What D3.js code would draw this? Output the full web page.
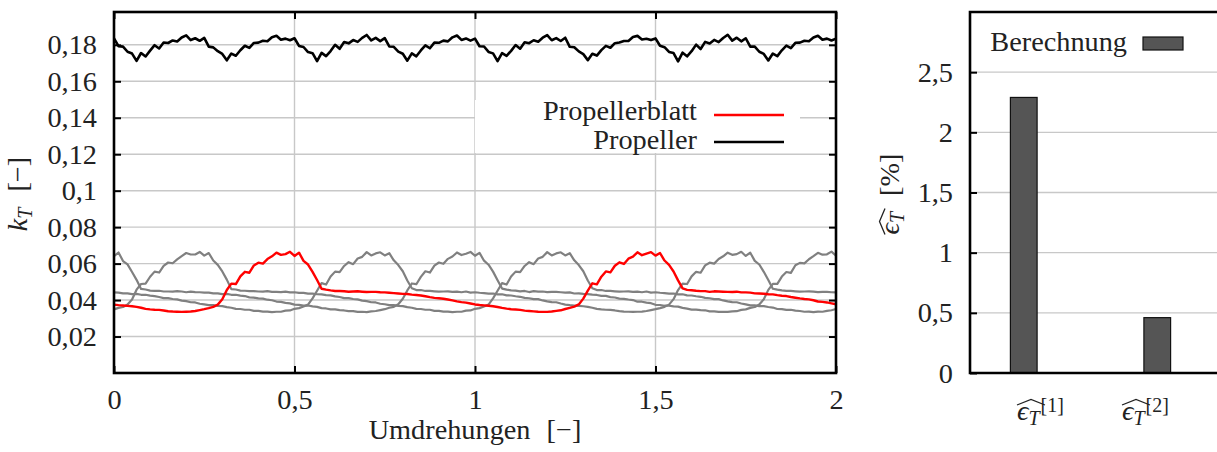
<!DOCTYPE html>
<html lang="de">
<head>
<meta charset="utf-8">
<title>Schubbeiwert Propeller</title>
<script src="https://d3js.org/d3.v7.min.js"></script>
<style>
  body { margin: 0; background: #fff; }
  text { font-family: "Liberation Serif", "DejaVu Serif", serif; fill: #222; }
</style>
</head>
<body>
<svg id="chart"></svg>
<script>
// ---- data ----
// Umdrehungen 0..2 in Schritten von 0,0125
const umdrehungen = d3.range(161).map(i => i * 0.0125);

// k_T der einzelnen Blaetter (Blatt 1 = rot, Rest grau)
const blatt1 = [
.0375,.0372,.0370,.0368,.0366,.0363,.0358,.0352,.0349,.0347,
.0346,.0343,.0339,.0337,.0336,.0335,.0336,.0337,.0340,.0345,
.0350,.0356,.0363,.0375,.0405,.0455,.0490,.0488,.0530,.0555,
.0550,.0590,.0605,.0600,.0625,.0640,.0660,.0648,.0652,.0665,
.0642,.0660,.0615,.0595,.0555,.0510,.0462,.0457,.0453,.0450,
.0450,.0448,.0446,.0447,.0448,.0446,.0444,.0445,.0445,.0443,
.0442,.0440,.0438,.0436,.0434,.0433,.0430,.0428,.0425,.0421,
.0416,.0412,.0410,.0407,.0403,.0398,.0393,.0389,.0386,.0381,
.0376,.0373,.0371,.0369,.0366,.0362,.0357,.0353,.0350,.0348,
.0346,.0342,.0340,.0338,.0336,.0335,.0335,.0337,.0341,.0344,
.0351,.0357,.0364,.0376,.0408,.0452,.0492,.0486,.0528,.0557,
.0552,.0588,.0607,.0598,.0627,.0638,.0662,.0646,.0655,.0663,
.0644,.0658,.0617,.0593,.0557,.0508,.0464,.0456,.0454,.0451,
.0449,.0449,.0445,.0448,.0447,.0446,.0445,.0444,.0446,.0442,
.0442,.0441,.0437,.0436,.0435,.0432,.0431,.0427,.0424,.0422,
.0417,.0413,.0409,.0406,.0404,.0399,.0392,.0390,.0387,.0382,
.0377];

const blatt2 = [
.0349,.0357,.0362,.0376,.0403,.0457,.0488,.0490,.0528,.0556,
.0551,.0588,.0606,.0602,.0623,.0641,.0658,.0650,.0650,.0664,
.0644,.0658,.0617,.0593,.0557,.0512,.0460,.0458,.0452,.0451,
.0449,.0449,.0447,.0446,.0449,.0445,.0445,.0444,.0446,.0442,
.0443,.0439,.0439,.0435,.0435,.0432,.0431,.0427,.0426,.0420,
.0417,.0411,.0411,.0406,.0404,.0397,.0394,.0388,.0387,.0380,
.0377,.0372,.0372,.0368,.0367,.0361,.0358,.0352,.0351,.0347,
.0347,.0341,.0341,.0337,.0337,.0334,.0336,.0336,.0342,.0343,
.0352,.0356,.0365,.0375,.0409,.0451,.0493,.0485,.0529,.0556,
.0553,.0587,.0608,.0597,.0628,.0637,.0663,.0645,.0656,.0662,
.0645,.0657,.0618,.0592,.0558,.0507,.0465,.0455,.0455,.0450,
.0450,.0448,.0446,.0447,.0448,.0445,.0446,.0443,.0447,.0441,
.0443,.0440,.0438,.0435,.0436,.0431,.0432,.0426,.0425,.0421,
.0418,.0412,.0410,.0405,.0405,.0398,.0393,.0389,.0388,.0381,
.0376,.0371,.0371,.0367,.0367,.0362,.0359,.0351,.0350,.0346,
.0347,.0342,.0340,.0336,.0337,.0334,.0337,.0336,.0341,.0344,
.0351];

const blatt3 = [
.0641,.0661,.0614,.0596,.0554,.0511,.0461,.0458,.0452,.0450,
.0451,.0447,.0447,.0446,.0449,.0447,.0443,.0446,.0444,.0443,
.0441,.0441,.0437,.0437,.0433,.0434,.0429,.0429,.0424,.0422,
.0415,.0413,.0409,.0408,.0402,.0399,.0392,.0390,.0385,.0382,
.0375,.0374,.0370,.0370,.0365,.0363,.0356,.0354,.0349,.0349,
.0345,.0343,.0339,.0339,.0335,.0336,.0334,.0338,.0340,.0345,
.0350,.0358,.0363,.0377,.0407,.0453,.0491,.0487,.0527,.0558,
.0551,.0589,.0606,.0599,.0626,.0639,.0661,.0647,.0654,.0664,
.0643,.0659,.0616,.0594,.0556,.0509,.0463,.0457,.0453,.0452,
.0448,.0450,.0444,.0449,.0446,.0447,.0444,.0445,.0445,.0443,
.0441,.0442,.0436,.0437,.0434,.0433,.0430,.0428,.0423,.0423,
.0416,.0414,.0408,.0407,.0403,.0400,.0391,.0391,.0386,.0383,
.0374,.0373,.0369,.0369,.0365,.0364,.0357,.0353,.0348,.0348,
.0345,.0344,.0338,.0338,.0335,.0336,.0335,.0338,.0339,.0346,
.0349,.0357,.0362,.0376,.0404,.0456,.0489,.0489,.0529,.0554,
.0549,.0591,.0604,.0601,.0624,.0641,.0659,.0649,.0651,.0666,
.0643];

const blatt4 = [
.0442,.0441,.0437,.0437,.0433,.0434,.0429,.0429,.0424,.0422,
.0417,.0411,.0411,.0406,.0404,.0397,.0394,.0388,.0387,.0380,
.0376,.0372,.0372,.0368,.0367,.0361,.0358,.0352,.0351,.0347,
.0347,.0341,.0341,.0337,.0337,.0334,.0336,.0336,.0342,.0343,
.0352,.0356,.0365,.0375,.0409,.0451,.0493,.0485,.0529,.0556,
.0553,.0587,.0608,.0597,.0628,.0637,.0663,.0645,.0656,.0662,
.0645,.0657,.0618,.0592,.0558,.0507,.0465,.0455,.0455,.0450,
.0450,.0448,.0446,.0447,.0448,.0445,.0446,.0443,.0447,.0441,
.0443,.0440,.0438,.0435,.0436,.0431,.0432,.0426,.0425,.0421,
.0418,.0412,.0410,.0405,.0405,.0398,.0393,.0389,.0388,.0381,
.0375,.0372,.0370,.0368,.0366,.0363,.0358,.0352,.0349,.0347,
.0346,.0343,.0339,.0337,.0336,.0335,.0336,.0337,.0340,.0345,
.0350,.0356,.0363,.0375,.0405,.0455,.0490,.0488,.0530,.0555,
.0550,.0590,.0605,.0600,.0625,.0640,.0660,.0648,.0652,.0665,
.0642,.0660,.0615,.0595,.0555,.0510,.0462,.0457,.0453,.0450,
.0450,.0448,.0446,.0447,.0448,.0446,.0444,.0445,.0445,.0443,
.0442];

// gesamter Propeller
const propeller = [
.1835,.1793,.1790,.1762,.1752,.1712,.1755,.1736,.1768,.1798,.1780,.1813,.1810,.1824,.1818,.1840,.1852,.1826,.1836,.1822,
.1838,.1790,.1786,.1765,.1750,.1715,.1752,.1740,.1770,.1795,.1783,.1810,.1812,.1822,.1820,.1842,.1850,.1828,.1834,.1825,
.1836,.1794,.1788,.1760,.1754,.1710,.1756,.1738,.1766,.1800,.1778,.1815,.1808,.1826,.1816,.1838,.1854,.1824,.1838,.1820,
.1837,.1791,.1789,.1763,.1751,.1713,.1753,.1737,.1769,.1797,.1781,.1812,.1811,.1823,.1819,.1841,.1851,.1827,.1835,.1823,
.1834,.1792,.1791,.1761,.1753,.1711,.1754,.1739,.1767,.1799,.1779,.1814,.1809,.1825,.1817,.1839,.1853,.1825,.1837,.1821,
.1839,.1789,.1787,.1764,.1749,.1716,.1751,.1741,.1771,.1794,.1784,.1809,.1813,.1821,.1821,.1843,.1849,.1829,.1833,.1826,
.1835,.1795,.1787,.1761,.1755,.1709,.1757,.1737,.1765,.1801,.1777,.1816,.1807,.1827,.1815,.1837,.1855,.1823,.1839,.1819,
.1836,.1790,.1790,.1762,.1750,.1714,.1752,.1738,.1770,.1796,.1782,.1811,.1812,.1822,.1820,.1840,.1850,.1828,.1834,.1824,
.1834];

const xTicksLeft = [0, 0.5, 1, 1.5, 2];
const yTicksLeft = [0.02, 0.04, 0.06, 0.08, 0.1, 0.12, 0.14, 0.16, 0.18];

// Fehler (rechts)
const fehlerKategorien = ["1", "2"];
const fehlerWerte = [2.29, 0.46];
const yTicksRight = [0, 0.5, 1, 1.5, 2, 2.5];

// ---- setup ----
const W = 1217, H = 452;
const svg = d3.select("#chart").attr("width", W).attr("height", H)
  .style("background", "#fff");

// schriftgroesse so waehlen, dass "Umdrehungen" ca. 162 px breit ist
const probe = svg.append("text").style("font-size", "100px").text("Umdrehungen");
const FS = Math.round(100 * 162 / probe.node().getComputedTextLength() * 10) / 10;
probe.remove();
const FSs = Math.round(FS * 0.72);

const de = d3.formatLocale({decimal: ",", thousands: ".", grouping: [3], currency: ["", " €"]});
const fmt = de.format("~g");

const gridCol = "#c8c8c8";

// ===== linkes Diagramm =====
const L = {x0: 114, x1: 836, y0: 12, y1: 373};
const x = d3.scaleLinear().domain([0, 2]).range([L.x0, L.x1]);
const y = d3.scaleLinear().domain([0, 0.198]).range([L.y1, L.y0]);

// gitter
svg.append("g").selectAll("line").data([0.5, 1, 1.5]).join("line")
  .attr("x1", d => x(d)).attr("x2", d => x(d))
  .attr("y1", L.y0).attr("y2", L.y1)
  .attr("stroke", gridCol).attr("stroke-width", 1.4);
svg.append("g").selectAll("line").data(yTicksLeft).join("line")
  .attr("x1", L.x0).attr("x2", L.x1)
  .attr("y1", d => y(d)).attr("y2", d => y(d))
  .attr("stroke", gridCol).attr("stroke-width", 1.4);

// legendenhintergrund
svg.append("rect").attr("x", 475).attr("y", 100).attr("width", 325).attr("height", 53)
  .attr("fill", "#fff");

const line = d3.line().x((d, i) => x(umdrehungen[i])).y(d => y(d));

[blatt2, blatt3, blatt4].forEach(s => {
  svg.append("path").datum(s).attr("d", line)
    .attr("fill", "none").attr("stroke", "#808080").attr("stroke-width", 2.2)
    .attr("stroke-linejoin", "round");
});
svg.append("path").datum(blatt1).attr("d", line)
  .attr("fill", "none").attr("stroke", "#ff0000").attr("stroke-width", 2.4)
  .attr("stroke-linejoin", "round");
svg.append("path").datum(propeller).attr("d", line)
  .attr("fill", "none").attr("stroke", "#000").attr("stroke-width", 2.6)
  .attr("stroke-linejoin", "round");

// achsen (ticks nach innen)
function styleAxis(g) {
  g.attr("font-family", null).attr("font-size", null);
  g.select(".domain").remove();
  g.selectAll(".tick line").attr("stroke", "#000").attr("stroke-width", 2);
  g.selectAll("text").style("font-size", FS + "px").attr("fill", "#222");
}
svg.append("g").attr("transform", `translate(${L.x0},0)`)
  .call(d3.axisLeft(y).tickValues(yTicksLeft).tickSize(-7).tickPadding(17).tickFormat(fmt))
  .call(styleAxis);
svg.append("g").attr("transform", `translate(${L.x1},0)`)
  .call(d3.axisRight(y).tickValues(yTicksLeft).tickSize(-7).tickFormat(""))
  .call(styleAxis);
svg.append("g").attr("transform", `translate(0,${L.y1})`)
  .call(d3.axisBottom(x).tickValues(xTicksLeft).tickSize(-7).tickPadding(16).tickFormat(fmt))
  .call(styleAxis);
svg.append("g").attr("transform", `translate(0,${L.y0})`)
  .call(d3.axisTop(x).tickValues(xTicksLeft).tickSize(-7).tickFormat(""))
  .call(styleAxis);

svg.append("rect").attr("x", L.x0).attr("y", L.y0)
  .attr("width", L.x1 - L.x0).attr("height", L.y1 - L.y0)
  .attr("fill", "none").attr("stroke", "#000").attr("stroke-width", 2.6);

// legende links
const leg = [
  {name: "Propellerblatt", color: "#ff0000", ty: 120, ly: 115},
  {name: "Propeller", color: "#000", ty: 149, ly: 142}
];
leg.forEach(l => {
  svg.append("text").attr("x", 697).attr("y", l.ty).attr("text-anchor", "end")
    .style("font-size", FS + "px").text(l.name);
  svg.append("line").attr("x1", 714).attr("x2", 784).attr("y1", l.ly).attr("y2", l.ly)
    .attr("stroke", l.color).attr("stroke-width", 2.6);
});

// achsentitel
svg.append("text").attr("x", x(1)).attr("y", 439).attr("text-anchor", "middle")
  .style("font-size", FS + "px")
  .call(t => {
    t.append("tspan").text("Umdrehungen");
    t.append("tspan").attr("dx", 16).text("[\u2212]");
  });

const yl = svg.append("text").attr("transform", "translate(27,194) rotate(-90)")
  .attr("text-anchor", "middle").style("font-size", FS + "px");
yl.append("tspan").attr("font-style", "italic").text("k");
yl.append("tspan").attr("font-style", "italic").style("font-size", FSs + "px").attr("dy", 5).text("T");
yl.append("tspan").attr("dy", -5).attr("dx", 16).text("[\u2212]");

// ===== rechtes Diagramm =====
const R = {x0: 970, y0: 12, y1: 373};
const yr = d3.scaleLinear().domain([0, 3]).range([R.y1, R.y0]);
const xb = d3.scaleBand().domain(fehlerKategorien).range([957, 1224])
  .paddingInner(0.8).paddingOuter(0.4);
const xl = d3.scalePoint().domain(fehlerKategorien).range([1017, 1122]);

svg.append("g").selectAll("line").data(yTicksRight.filter(d => d > 0)).join("line")
  .attr("x1", R.x0).attr("x2", W)
  .attr("y1", d => yr(d)).attr("y2", d => yr(d))
  .attr("stroke", gridCol).attr("stroke-width", 1.4);

svg.append("g").selectAll("rect").data(fehlerWerte).join("rect")
  .attr("x", (d, i) => xb(fehlerKategorien[i]))
  .attr("width", xb.bandwidth())
  .attr("y", d => yr(d)).attr("height", d => yr(0) - yr(d))
  .attr("fill", "#555").attr("stroke", "#111").attr("stroke-width", 1.2);

svg.append("g").attr("transform", `translate(${R.x0},0)`)
  .call(d3.axisLeft(yr).tickValues(yTicksRight).tickSize(-7).tickPadding(17).tickFormat(fmt))
  .call(styleAxis);

svg.append("path")
  .attr("d", `M${W + 5},${R.y0}H${R.x0}V${R.y1}H${W + 5}`)
  .attr("fill", "none").attr("stroke", "#000").attr("stroke-width", 2.6);

// legende rechts
svg.append("text").attr("x", 1127).attr("y", 51).attr("text-anchor", "end")
  .style("font-size", FS + "px").text("Berechnung");
svg.append("rect").attr("x", 1143).attr("y", 37).attr("width", 40).attr("height", 13)
  .attr("fill", "#555").attr("stroke", "#111").attr("stroke-width", 1.2);

// epsilon-beschriftungen mit dach
function hat(g, x0, x1, yb) {
  const xm = (x0 + x1) / 2;
  g.append("path").attr("d", `M${x0},${yb}L${xm},${yb - 5.5}L${x1},${yb}`)
    .attr("fill", "none").attr("stroke", "#222").attr("stroke-width", 1.3);
}

fehlerKategorien.forEach(k => {
  const gx = xl(k);
  const t = svg.append("text").attr("x", gx).attr("y", 420).style("font-size", FS + "px");
  t.append("tspan").attr("font-style", "italic").text("\u03f5");
  t.append("tspan").attr("font-style", "italic").style("font-size", FSs + "px").attr("dy", 5).text("T");
  t.append("tspan").style("font-size", FSs + "px").attr("dy", -13).attr("dx", 1).text("[" + k + "]");
  hat(svg, gx, gx + 28, 405);
});

const yr2 = svg.append("g").attr("transform", "translate(899,194) rotate(-90)");
const ylt = yr2.append("text").attr("text-anchor", "middle").style("font-size", FS + "px");
ylt.append("tspan").attr("font-style", "italic").text("\u03f5");
ylt.append("tspan").attr("font-style", "italic").style("font-size", FSs + "px").attr("dy", 5).text("T");
ylt.append("tspan").attr("dy", -5).attr("dx", 16).text("[%]");
const bb = ylt.node().getBBox();
hat(yr2, bb.x, bb.x + 26, -14);
</script>
</body>
</html>
